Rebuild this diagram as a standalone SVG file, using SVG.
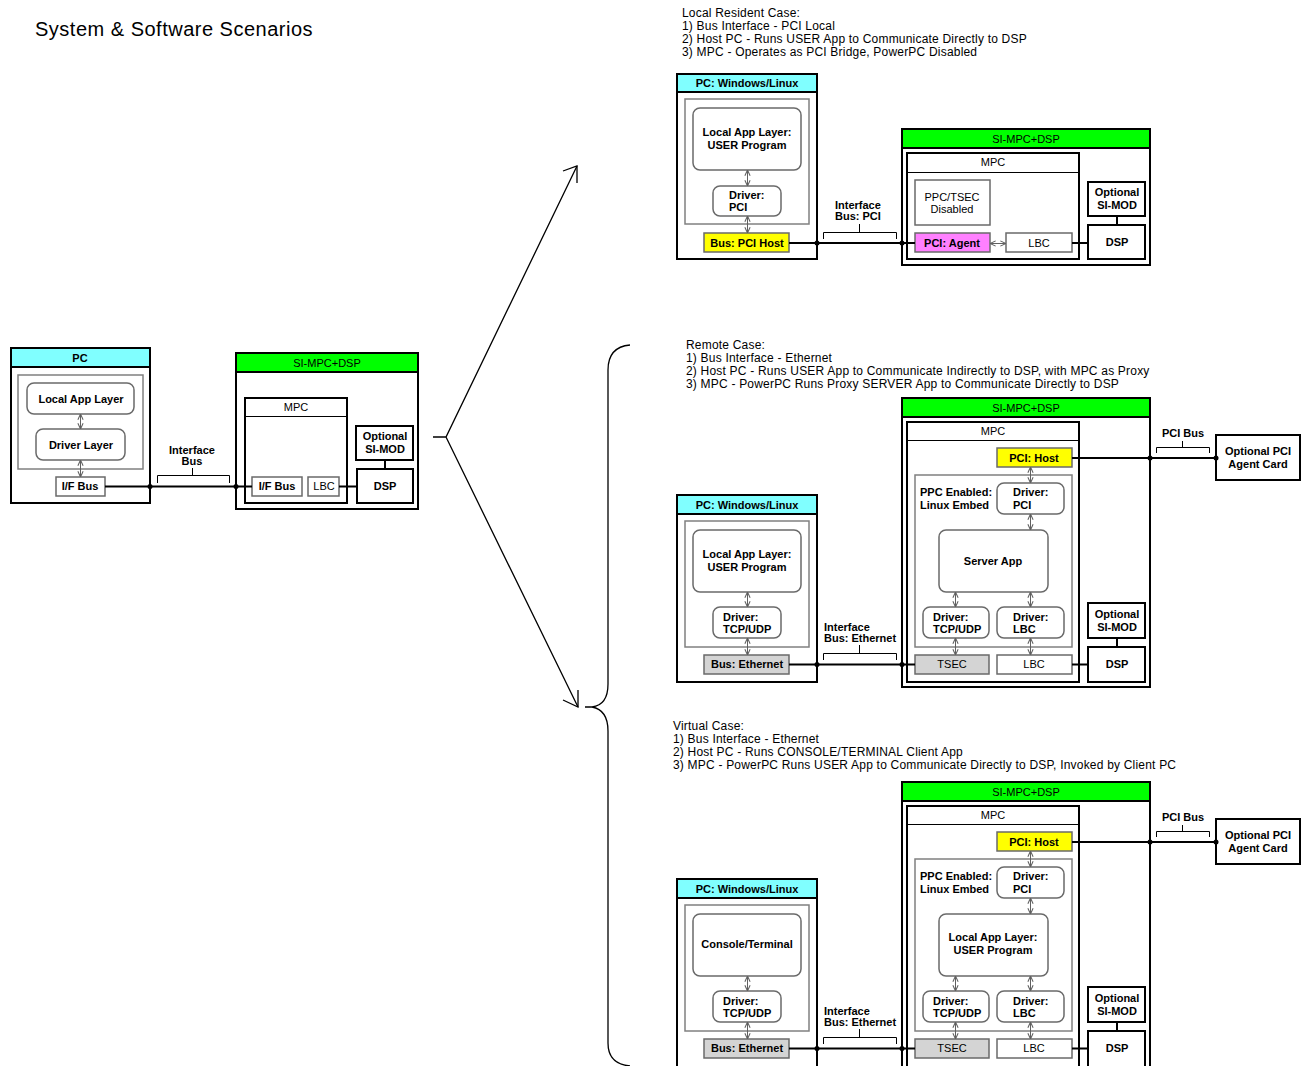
<svg xmlns="http://www.w3.org/2000/svg" width="1302" height="1066" viewBox="0 0 1302 1066">
  <defs>
    <style>
      .t { font-family: "Liberation Sans", Arial, sans-serif; font-size: 11px; fill: #000; }
      .b { font-weight: bold; }
      .c { text-anchor: middle; }
      .note { font-size: 12px; letter-spacing: 0.2px; }
      .title { font-size: 20px; letter-spacing: 0.5px; }
      .frame { fill: #fff; stroke: #000; stroke-width: 2; }
      .hdr-pc { fill: #80ffff; stroke: #000; stroke-width: 2; }
      .hdr-brd { fill: #00ff00; stroke: #000; stroke-width: 2; }
      .sep { stroke: #000; stroke-width: 1; }
      .inner { fill: none; stroke: #808080; stroke-width: 1.5; }
      .layer { fill: #fff; stroke: #6a6a6a; stroke-width: 1.5; }
      .cell { fill: #fff; stroke: #6a6a6a; stroke-width: 1.5; }
      .host { fill: #ffff00; stroke: #6a6a6a; stroke-width: 1.5; }
      .agent { fill: #ff80ff; stroke: #6a6a6a; stroke-width: 1.5; }
      .eth { fill: #d4d4d4; stroke: #6a6a6a; stroke-width: 1.5; }
      .wire { fill: none; stroke: #000; stroke-width: 2; }
      .brk { fill: none; stroke: #000; stroke-width: 1; }
      .dbl { stroke: #606060; stroke-width: 1; marker-start: url(#tip); marker-end: url(#tip); }
      .big { fill: none; stroke: #000; stroke-width: 1.3; }
    </style>
    <marker id="tip" viewBox="0 0 8 8" refX="7.5" refY="4" markerWidth="7" markerHeight="7" markerUnits="userSpaceOnUse" orient="auto-start-reverse">
      <path d="M1,1 L7.5,4 L1,7" fill="none" stroke="#606060" stroke-width="1.2"/>
    </marker>
  </defs>

  <rect width="1302" height="1066" fill="#fff"/>

  <text class="t title" x="35" y="36">System &amp; Software Scenarios</text>

  <!-- ===== Overview: generic PC and board ===== -->
  <g id="ov-pc">
    <rect class="frame" x="11" y="348" width="139" height="155"/>
    <rect class="hdr-pc" x="11" y="348" width="139" height="19"/>
    <text class="t b c" x="80" y="362">PC</text>
    <rect class="inner" x="18" y="375" width="125" height="94"/>
  </g>
  <g id="ov-app">
    <rect class="layer" x="27" y="383" width="107" height="31" rx="7"/>
    <text class="t b c" x="81" y="403">Local App Layer</text>
  </g>
  <g id="ov-driver">
    <rect class="layer" x="36" y="429" width="89" height="31" rx="7"/>
    <text class="t b c" x="81" y="449">Driver Layer</text>
  </g>
  <g id="ov-ifbus-pc">
    <rect class="cell" x="56" y="477" width="49" height="19"/>
    <text class="t b c" x="80" y="490">I/F Bus</text>
  </g>
  <g id="ov-board">
    <rect class="frame" x="236" y="353" width="182" height="156"/>
    <rect class="hdr-brd" x="236" y="353" width="182" height="19"/>
    <text class="t c" x="327" y="367">SI-MPC+DSP</text>
  </g>
  <g id="ov-mpc">
    <rect class="frame" x="245" y="398" width="102" height="105"/>
    <line class="sep" x1="245" y1="416.5" x2="347" y2="416.5"/>
    <text class="t c" x="296" y="411">MPC</text>
  </g>
  <g id="ov-ifbus-mpc">
    <rect class="cell" x="252" y="477" width="50" height="19"/>
    <text class="t b c" x="277" y="490">I/F Bus</text>
  </g>
  <g id="ov-lbc">
    <rect class="cell" x="308" y="477" width="31" height="19"/>
    <text class="t c" x="324" y="490">LBC</text>
  </g>
  <g id="ov-simod">
    <rect class="frame" x="356" y="426" width="57" height="34"/>
    <text class="t b c" x="385" y="440">Optional</text>
    <text class="t b c" x="385" y="453">SI-MOD</text>
  </g>
  <g id="ov-dsp">
    <rect class="frame" x="357" y="469" width="56" height="34"/>
    <text class="t b c" x="385" y="490">DSP</text>
  </g>
  <g id="ov-label">
    <text class="t b c" x="192" y="454">Interface</text>
    <text class="t b c" x="192" y="465">Bus</text>
  </g>

  <!-- ===== Local Resident Case ===== -->
  <g id="lr-note">
    <text class="t note" x="682" y="17">Local Resident Case:</text>
    <text class="t note" x="682" y="30">1) Bus Interface - PCI Local</text>
    <text class="t note" x="682" y="43">2) Host PC - Runs USER App to Communicate Directly to DSP</text>
    <text class="t note" x="682" y="56">3) MPC - Operates as PCI Bridge, PowerPC Disabled</text>
  </g>
  <g id="lr-pc">
    <rect class="frame" x="677" y="74" width="140" height="185"/>
    <rect class="hdr-pc" x="677" y="74" width="140" height="18"/>
    <text class="t b c" x="747" y="87">PC: Windows/Linux</text>
    <rect class="inner" x="685" y="99" width="124" height="125"/>
  </g>
  <g id="lr-app">
    <rect class="layer" x="693" y="108" width="108" height="62" rx="7"/>
    <text class="t b c" x="747" y="136">Local App Layer:</text>
    <text class="t b c" x="747" y="149">USER Program</text>
  </g>
  <g id="lr-driver">
    <rect class="layer" x="713" y="186" width="68" height="30" rx="7"/>
    <text class="t b" x="729" y="199">Driver:</text>
    <text class="t b" x="729" y="211">PCI</text>
  </g>
  <g id="lr-bus">
    <rect class="host" x="704" y="233" width="85" height="19"/>
    <text class="t b c" x="747" y="247">Bus: PCI Host</text>
  </g>
  <g id="lr-label">
    <text class="t b" x="835" y="209">Interface</text>
    <text class="t b" x="835" y="220">Bus:  PCI</text>
  </g>
  <g id="lr-board">
    <rect class="frame" x="902" y="129" width="248" height="136"/>
    <rect class="hdr-brd" x="902" y="129" width="248" height="19"/>
    <text class="t c" x="1026" y="143">SI-MPC+DSP</text>
  </g>
  <g id="lr-mpc">
    <rect class="frame" x="907" y="153" width="172" height="106"/>
    <line class="sep" x1="907" y1="172.5" x2="1079" y2="172.5"/>
    <text class="t c" x="993" y="166">MPC</text>
  </g>
  <g id="lr-ppc">
    <rect class="cell" x="915" y="180" width="75" height="45"/>
    <text class="t c" x="952" y="201">PPC/TSEC</text>
    <text class="t c" x="952" y="213">Disabled</text>
  </g>
  <g id="lr-agent">
    <rect class="agent" x="915" y="233" width="75" height="19"/>
    <text class="t b c" x="952" y="247">PCI: Agent</text>
  </g>
  <g id="lr-lbc">
    <rect class="cell" x="1006" y="233" width="66" height="19"/>
    <text class="t c" x="1039" y="247">LBC</text>
  </g>
  <g id="lr-simod">
    <rect class="frame" x="1088" y="182" width="57" height="34"/>
    <text class="t b c" x="1117" y="196">Optional</text>
    <text class="t b c" x="1117" y="209">SI-MOD</text>
  </g>
  <g id="lr-dsp">
    <rect class="frame" x="1088" y="225" width="57" height="34"/>
    <text class="t b c" x="1117" y="246">DSP</text>
  </g>

  <!-- ===== Remote Case ===== -->
  <g id="rm-note">
    <text class="t note" x="686" y="349">Remote Case:</text>
    <text class="t note" x="686" y="362">1) Bus Interface - Ethernet</text>
    <text class="t note" x="686" y="375">2) Host PC - Runs USER App to Communicate Indirectly to DSP, with MPC as Proxy</text>
    <text class="t note" x="686" y="388">3) MPC - PowerPC Runs Proxy SERVER App to Communicate Directly to DSP</text>
  </g>
  <g id="rm-pc">
    <rect class="frame" x="677" y="495" width="140" height="187"/>
    <rect class="hdr-pc" x="677" y="495" width="140" height="19"/>
    <text class="t b c" x="747" y="509">PC: Windows/Linux</text>
    <rect class="inner" x="685" y="521" width="124" height="126"/>
  </g>
  <g id="rm-app">
    <rect class="layer" x="693" y="530" width="108" height="62" rx="7"/>
    <text class="t b c" x="747" y="558">Local App Layer:</text>
    <text class="t b c" x="747" y="571">USER Program</text>
  </g>
  <g id="rm-driver">
    <rect class="layer" x="713" y="607" width="68" height="31" rx="7"/>
    <text class="t b" x="723" y="621">Driver:</text>
    <text class="t b" x="723" y="633">TCP/UDP</text>
  </g>
  <g id="rm-bus">
    <rect class="eth" x="704" y="655" width="85" height="19"/>
    <text class="t b c" x="747" y="668">Bus: Ethernet</text>
  </g>
  <g id="rm-label">
    <text class="t b" x="824" y="631">Interface</text>
    <text class="t b" x="824" y="642">Bus: Ethernet</text>
  </g>
  <g id="rm-board">
    <rect class="frame" x="902" y="398" width="248" height="289"/>
    <rect class="hdr-brd" x="902" y="398" width="248" height="19"/>
    <text class="t c" x="1026" y="412">SI-MPC+DSP</text>
  </g>
  <g id="rm-mpc">
    <rect class="frame" x="907" y="422" width="172" height="260"/>
    <line class="sep" x1="907" y1="440.5" x2="1079" y2="440.5"/>
    <text class="t c" x="993" y="435">MPC</text>
    <rect class="inner" x="915" y="475" width="157" height="172"/>
    <text class="t b" x="920" y="496">PPC Enabled:</text>
    <text class="t b" x="920" y="509">Linux Embed</text>
  </g>
  <g id="rm-pcihost">
    <rect class="host" x="997" y="448" width="75" height="19"/>
    <text class="t b c" x="1034" y="462">PCI: Host</text>
  </g>
  <g id="rm-drvpci">
    <rect class="layer" x="997" y="483" width="67" height="31" rx="7"/>
    <text class="t b" x="1013" y="496">Driver:</text>
    <text class="t b" x="1013" y="509">PCI</text>
  </g>
  <g id="rm-server">
    <rect class="layer" x="939" y="530" width="109" height="62" rx="7"/>
    <text class="t b c" x="993" y="565">Server App</text>
  </g>
  <g id="rm-drvtcp">
    <rect class="layer" x="923" y="607" width="66" height="31" rx="7"/>
    <text class="t b" x="933" y="621">Driver:</text>
    <text class="t b" x="933" y="633">TCP/UDP</text>
  </g>
  <g id="rm-drvlbc">
    <rect class="layer" x="997" y="607" width="67" height="31" rx="7"/>
    <text class="t b" x="1013" y="621">Driver:</text>
    <text class="t b" x="1013" y="633">LBC</text>
  </g>
  <g id="rm-tsec">
    <rect class="eth" x="915" y="655" width="74" height="19"/>
    <text class="t c" x="952" y="668">TSEC</text>
  </g>
  <g id="rm-lbc">
    <rect class="cell" x="997" y="655" width="75" height="19"/>
    <text class="t c" x="1034" y="668">LBC</text>
  </g>
  <g id="rm-simod">
    <rect class="frame" x="1088" y="603" width="57" height="35"/>
    <text class="t b c" x="1117" y="618">Optional</text>
    <text class="t b c" x="1117" y="631">SI-MOD</text>
  </g>
  <g id="rm-dsp">
    <rect class="frame" x="1088" y="647" width="57" height="35"/>
    <text class="t b c" x="1117" y="668">DSP</text>
  </g>
  <g id="rm-agentcard">
    <rect class="frame" x="1216" y="435" width="84" height="45"/>
    <text class="t b c" x="1258" y="455">Optional PCI</text>
    <text class="t b c" x="1258" y="468">Agent Card</text>
  </g>
  <g id="rm-pcibus-label">
    <text class="t b c" x="1183" y="437">PCI Bus</text>
  </g>

  <!-- ===== Virtual Case ===== -->
  <g id="vc-note">
    <text class="t note" x="673" y="730">Virtual Case:</text>
    <text class="t note" x="673" y="743">1) Bus Interface - Ethernet</text>
    <text class="t note" x="673" y="756">2) Host PC - Runs CONSOLE/TERMINAL Client App</text>
    <text class="t note" x="673" y="769">3) MPC - PowerPC Runs USER App to Communicate Directly to DSP, Invoked by Client PC</text>
  </g>
  <g id="vc-pc">
    <rect class="frame" x="677" y="879" width="140" height="200"/>
    <rect class="hdr-pc" x="677" y="879" width="140" height="19"/>
    <text class="t b c" x="747" y="893">PC: Windows/Linux</text>
    <rect class="inner" x="685" y="905" width="124" height="126"/>
  </g>
  <g id="vc-console">
    <rect class="layer" x="693" y="914" width="108" height="62" rx="7"/>
    <text class="t b c" x="747" y="948">Console/Terminal</text>
  </g>
  <g id="vc-driver">
    <rect class="layer" x="713" y="991" width="68" height="31" rx="7"/>
    <text class="t b" x="723" y="1005">Driver:</text>
    <text class="t b" x="723" y="1017">TCP/UDP</text>
  </g>
  <g id="vc-bus">
    <rect class="eth" x="704" y="1039" width="85" height="19"/>
    <text class="t b c" x="747" y="1052">Bus: Ethernet</text>
  </g>
  <g id="vc-label">
    <text class="t b" x="824" y="1015">Interface</text>
    <text class="t b" x="824" y="1026">Bus: Ethernet</text>
  </g>
  <g id="vc-board">
    <rect class="frame" x="902" y="782" width="248" height="300"/>
    <rect class="hdr-brd" x="902" y="782" width="248" height="19"/>
    <text class="t c" x="1026" y="796">SI-MPC+DSP</text>
  </g>
  <g id="vc-mpc">
    <rect class="frame" x="907" y="806" width="172" height="280"/>
    <line class="sep" x1="907" y1="824.5" x2="1079" y2="824.5"/>
    <text class="t c" x="993" y="819">MPC</text>
    <rect class="inner" x="915" y="859" width="157" height="172"/>
    <text class="t b" x="920" y="880">PPC Enabled:</text>
    <text class="t b" x="920" y="893">Linux Embed</text>
  </g>
  <g id="vc-pcihost">
    <rect class="host" x="997" y="832" width="75" height="19"/>
    <text class="t b c" x="1034" y="846">PCI: Host</text>
  </g>
  <g id="vc-drvpci">
    <rect class="layer" x="997" y="867" width="67" height="31" rx="7"/>
    <text class="t b" x="1013" y="880">Driver:</text>
    <text class="t b" x="1013" y="893">PCI</text>
  </g>
  <g id="vc-app">
    <rect class="layer" x="939" y="914" width="109" height="62" rx="7"/>
    <text class="t b c" x="993" y="941">Local App Layer:</text>
    <text class="t b c" x="993" y="954">USER Program</text>
  </g>
  <g id="vc-drvtcp">
    <rect class="layer" x="923" y="991" width="66" height="31" rx="7"/>
    <text class="t b" x="933" y="1005">Driver:</text>
    <text class="t b" x="933" y="1017">TCP/UDP</text>
  </g>
  <g id="vc-drvlbc">
    <rect class="layer" x="997" y="991" width="67" height="31" rx="7"/>
    <text class="t b" x="1013" y="1005">Driver:</text>
    <text class="t b" x="1013" y="1017">LBC</text>
  </g>
  <g id="vc-tsec">
    <rect class="eth" x="915" y="1039" width="74" height="19"/>
    <text class="t c" x="952" y="1052">TSEC</text>
  </g>
  <g id="vc-lbc">
    <rect class="cell" x="997" y="1039" width="75" height="19"/>
    <text class="t c" x="1034" y="1052">LBC</text>
  </g>
  <g id="vc-simod">
    <rect class="frame" x="1088" y="987" width="57" height="35"/>
    <text class="t b c" x="1117" y="1002">Optional</text>
    <text class="t b c" x="1117" y="1015">SI-MOD</text>
  </g>
  <g id="vc-dsp">
    <rect class="frame" x="1088" y="1031" width="57" height="45"/>
    <text class="t b c" x="1117" y="1052">DSP</text>
  </g>
  <g id="vc-agentcard">
    <rect class="frame" x="1216" y="819" width="84" height="45"/>
    <text class="t b c" x="1258" y="839">Optional PCI</text>
    <text class="t b c" x="1258" y="852">Agent Card</text>
  </g>
  <g id="vc-pcibus-label">
    <text class="t b c" x="1183" y="821">PCI Bus</text>
  </g>

  <!-- ===== Connectors ===== -->
  <g id="connectors">
    <!-- overview -->
    <line class="dbl" x1="80.5" y1="414" x2="80.5" y2="429"/>
    <line class="dbl" x1="80.5" y1="460" x2="80.5" y2="477"/>
    <path class="wire" d="M105,486.5 H252 M339,486.5 H357"/>
    <line class="wire" x1="385" y1="460" x2="385" y2="469"/>
    <path class="brk" d="M157.5,483 V475.5 H229.5 V483 M192.5,475.5 V468"/>
    <circle class="dot" cx="150" cy="486.5" r="2.5"/>
    <circle class="dot" cx="236" cy="486.5" r="2.5"/>

    <!-- local resident -->
    <line class="dbl" x1="747.5" y1="170" x2="747.5" y2="186"/>
    <line class="dbl" x1="747.5" y1="216" x2="747.5" y2="233"/>
    <path class="wire" d="M789,243 H915 M1072,243 H1088"/>
    <line class="dbl" x1="990" y1="243.5" x2="1006" y2="243.5"/>
    <line class="wire" x1="1117" y1="216" x2="1117" y2="225"/>
    <path class="brk" d="M823.5,239 V232.5 H896.5 V239 M859.5,232.5 V224"/>
    <circle class="dot" cx="817" cy="243" r="2.5"/>
    <circle class="dot" cx="902" cy="243" r="2.5"/>

    <!-- remote -->
    <line class="dbl" x1="747.5" y1="592" x2="747.5" y2="607"/>
    <line class="dbl" x1="747.5" y1="638" x2="747.5" y2="655"/>
    <path class="wire" d="M789,664.5 H915 M1072,664.5 H1088 M1072,458 H1216"/>
    <line class="wire" x1="1117" y1="638" x2="1117" y2="647"/>
    <line class="dbl" x1="1030.5" y1="467" x2="1030.5" y2="483"/>
    <line class="dbl" x1="1030.5" y1="514" x2="1030.5" y2="530"/>
    <line class="dbl" x1="955.5" y1="592" x2="955.5" y2="607"/>
    <line class="dbl" x1="1030.5" y1="592" x2="1030.5" y2="607"/>
    <line class="dbl" x1="955.5" y1="638" x2="955.5" y2="655"/>
    <line class="dbl" x1="1030.5" y1="638" x2="1030.5" y2="655"/>
    <path class="brk" d="M823.5,660 V653.5 H896.5 V660 M859.5,653.5 V645"/>
    <path class="brk" d="M1156.5,453 V447.5 H1209.5 V453 M1182.5,447.5 V441"/>
    <circle class="dot" cx="817" cy="664.5" r="2.5"/>
    <circle class="dot" cx="902" cy="664.5" r="2.5"/>
    <circle class="dot" cx="1150" cy="458" r="2.5"/>
    <circle class="dot" cx="1216" cy="458" r="2.5"/>

    <!-- virtual -->
    <line class="dbl" x1="747.5" y1="976" x2="747.5" y2="991"/>
    <line class="dbl" x1="747.5" y1="1022" x2="747.5" y2="1039"/>
    <path class="wire" d="M789,1048.5 H915 M1072,1048.5 H1088 M1072,842 H1216"/>
    <line class="wire" x1="1117" y1="1022" x2="1117" y2="1031"/>
    <line class="dbl" x1="1030.5" y1="851" x2="1030.5" y2="867"/>
    <line class="dbl" x1="1030.5" y1="898" x2="1030.5" y2="914"/>
    <line class="dbl" x1="955.5" y1="976" x2="955.5" y2="991"/>
    <line class="dbl" x1="1030.5" y1="976" x2="1030.5" y2="991"/>
    <line class="dbl" x1="955.5" y1="1022" x2="955.5" y2="1039"/>
    <line class="dbl" x1="1030.5" y1="1022" x2="1030.5" y2="1039"/>
    <path class="brk" d="M823.5,1044 V1037.5 H896.5 V1044 M859.5,1037.5 V1029"/>
    <path class="brk" d="M1156.5,837 V831.5 H1209.5 V837 M1182.5,831.5 V825"/>
    <circle class="dot" cx="817" cy="1048.5" r="2.5"/>
    <circle class="dot" cx="902" cy="1048.5" r="2.5"/>
    <circle class="dot" cx="1150" cy="842" r="2.5"/>
    <circle class="dot" cx="1216" cy="842" r="2.5"/>

    <!-- scenario pointers and brace -->
    <path class="big" d="M433,437 H446 L577,166 M446,437 L578,707"/>
    <path class="big" d="M563,171 L577,166 V183"/>
    <path class="big" d="M563,700 L578,707 V690"/>
    <path class="big" d="M630,345 Q608,347 608,370 V684 Q608,705 592,707 H585 M592,707 Q608,710 608,731 V1043 Q608,1064 630,1066"/>
  </g>
</svg>
